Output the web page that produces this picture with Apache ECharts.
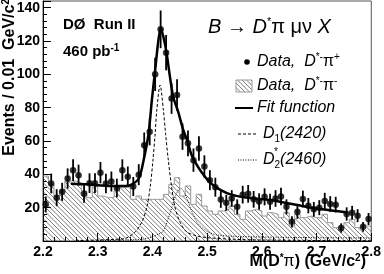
<!DOCTYPE html>
<html><head><meta charset="utf-8">
<script src="https://cdn.jsdelivr.net/npm/echarts@6/dist/echarts.min.js"></script>
<style>html,body{margin:0;padding:0;background:#fff}#c{width:384px;height:274px}</style>
</head><body><div id="c"></div>
<script>
// ---- data ----
const binStart = 2.2;
const binWidth = 0.01;
const dataRightSign = [22,34.5,26,29.5,37.5,42.5,39.5,28.3,34.7,34.7,
  41,34.5,35.7,31.8,42.5,38.5,32.7,39.8,57.5,65.5,
  100,127,113,85.5,87.6,62.6,58.6,48.5,55.5,44.7,
  36.5,32.3,24.9,22.9,25.5,20.5,27.8,28.3,25,23.7,
  26.5,23.5,25.5,26.7,20.5,11.5,17.5,25.2,21.2,19,
  20,24,22.2,21.8,7.8,16.2,17,15.2,8.5,13.2];
const dataErrors = [4.7,5.9,5.1,5.4,6.1,6.5,6.3,5.3,5.9,5.9,
  6.4,5.9,6.0,5.6,6.5,6.2,5.7,6.3,7.6,8.1,
  10,11.3,10.6,9.2,9.4,7.9,7.7,7.0,7.4,6.7,
  6.0,5.7,5.0,4.8,5.0,4.5,5.3,5.3,5.0,4.9,
  5.1,4.8,5.0,5.2,4.5,3.4,4.2,5.0,4.6,4.4,
  4.5,4.9,4.7,4.7,2.8,4.0,4.1,3.9,2.9,3.6];
const wrongSign = [39,34,27,30,36,36,35,30,26,34,
  27,26,26,30,32,33,25,27,25,25,
  25,25,28,34,38,27,33,22,28,21,
  18,16,18,19,21,16,13,18,19,18,
  15,17,16,14,17,9,16,14,15,14,
  14,16,11,8,8,11,13,8,9,9];
const fitX = [2.251,2.28,2.30,2.33,2.35,2.36,2.375,2.384,2.393,2.399,2.405,2.411,2.415,2.42,2.426,2.432,2.438,2.447,2.456,2.465,2.471,2.483,2.495,2.507,2.525,2.544,2.568,2.592,2.62,2.65,2.68,2.71,2.74,2.755];
const fitY = [34.4,34,33.5,33,33,33.5,37.5,48.6,64.6,84.6,102.6,120.6,127.5,122.6,112.6,98.6,86.6,77.6,67,59,52,44.6,39,34.6,30.5,27.8,26.2,25.3,24.3,22.5,20.6,19,17.8,17.2];
const d1X = [2.26,2.30,2.33,2.351,2.369,2.381,2.390,2.396,2.401,2.405,2.408,2.414,2.420,2.424,2.429,2.435,2.441,2.450,2.462,2.48,2.50,2.55,2.60,2.70,2.80];
const d1Y = [0.2,0.6,1.0,1.6,5.6,11.6,20.6,32.6,48.6,64.6,78.6,93.6,78.6,64.6,48.6,32.6,20.6,11.6,5.6,3.2,2.0,1.0,0.6,0.3,0.2];
const d2X = [2.30,2.38,2.40,2.41,2.42,2.432,2.444,2.452,2.459,2.471,2.483,2.501,2.519,2.55,2.60,2.70,2.80];
const d2Y = [0.3,1.0,2.5,4.0,6.0,16.6,28.6,31.6,28.6,18.6,10.6,5.6,3.6,2.8,2.4,2.0,1.8];
const yTickStep = 20, xTickStep = 0.1;

// ---- build ----
const FF = 'Liberation Sans, Arial, Helvetica, sans-serif';
const pts = dataRightSign.map((v,i)=>[+(binStart+(i+0.5)*binWidth).toFixed(4), v, dataErrors[i]]);
const histPts = wrongSign.map((v,i)=>[+(binStart+i*binWidth).toFixed(4), v]);
histPts.push([+(binStart+wrongSign.length*binWidth).toFixed(4), wrongSign[wrongSign.length-1]]);
const zip = (a,b)=>a.map((x,i)=>[x,b[i]]);

function hatchCanvas(){
  const s=4.5, c=document.createElement('canvas'); c.width=9; c.height=9;
  const g=c.getContext('2d'); g.strokeStyle='#444'; g.lineWidth=0.7;
  g.beginPath();
  for(let k=-9;k<=9;k+=s){ g.moveTo(k,0); g.lineTo(k+9,9); }
  g.stroke(); return c;
}
const hatch = {image: hatchCanvas(), repeat:'repeat'};

const chart = echarts.init(document.getElementById('c'), null, {renderer:'canvas'});
const rich = {
  i:{fontFamily:FF, fontStyle:'italic', fontSize:16, color:'#000', lineHeight:20},
  g:{fontFamily:FF, fontSize:16, color:'#000', lineHeight:20},
  sup:{fontFamily:FF, fontSize:10, color:'#000', verticalAlign:'top', lineHeight:20},
  sub:{fontFamily:FF, fontSize:10, color:'#000', verticalAlign:'bottom', lineHeight:16},
};
const option = {
  animation:false,
  backgroundColor:'#fff',
  grid:{left:43, right:9, top:1, bottom:33, show:true, borderColor:'#555', borderWidth:1, backgroundColor:'transparent'},
  xAxis:{type:'value', min:2.2, max:2.8, interval:xTickStep,
    axisLine:{show:true, onZero:false, lineStyle:{color:'#000', width:1}},
    axisTick:{inside:true, length:8, lineStyle:{color:'#000'}},
    minorTick:{show:true, splitNumber:5, length:4, lineStyle:{color:'#000'}},
    splitLine:{show:false},
    axisLabel:{margin:4, fontFamily:FF, fontWeight:'bold', fontSize:14, color:'#000', formatter:v=>v.toFixed(1)}
  },
  yAxis:{type:'value', min:0, max:144, interval:yTickStep,
    axisLine:{show:true, lineStyle:{color:'#000', width:1}},
    axisTick:{inside:true, length:8, lineStyle:{color:'#000'}},
    minorTick:{show:true, splitNumber:5, length:4, lineStyle:{color:'#000'}},
    splitLine:{show:false},
    axisLabel:{margin:3, showMaxLabel:false, fontFamily:FF, fontWeight:'bold', fontSize:14, color:'#000',
      formatter:v=> (v>0 && v%20===0)? String(v):''}
  },
  series:[
    {type:'line', data:histPts, step:'end', symbol:'none', silent:true,
     lineStyle:{color:'#999', width:1}, areaStyle:{color:hatch, opacity:1}, z:1},
    {type:'line', data:zip(d1X,d1Y), smooth:0.3, symbol:'none', lineStyle:{color:'#000', width:1, type:[3,2]}, z:3},
    {type:'line', data:zip(d2X,d2Y), smooth:0.3, symbol:'none', lineStyle:{color:'#000', width:1, type:[1,1.5]}, z:3},
    {type:'line', data:zip(fitX,fitY), smooth:0.3, symbol:'none', lineStyle:{color:'#000', width:2.5}, z:4},
    {type:'custom', data:pts, z:5, renderItem:(p,api)=>{
      const x=api.value(0), y=api.value(1), e=api.value(2);
      const a=api.coord([x,y+e]), b=api.coord([x,Math.max(0,y-e)]);
      return {type:'line', shape:{x1:a[0],y1:a[1],x2:b[0],y2:b[1]}, style:{stroke:'#000', lineWidth:1.8}};
    }, encode:{x:0,y:1}},
    {type:'scatter', data:pts.map(p=>[p[0],p[1]]), symbol:'circle', symbolSize:6.5, itemStyle:{color:'#000'}, z:6}
  ],
  graphic:[
    {type:'text', x:10, y:-1, rotation:Math.PI/2, style:{text:'{b|Events / 0.01  GeV/c}{s|2}', textAlign:'right', textVerticalAlign:'middle',
      rich:{b:{fontFamily:FF, fontWeight:'bold', fontSize:16, color:'#000', lineHeight:18}, s:{fontFamily:FF, fontWeight:'bold', fontSize:10, color:'#000', verticalAlign:'top', lineHeight:18}}}},
    {type:'text', x:366, y:262, style:{text:'{b|M(D}{s|*}{p|π}{b|) (GeV/c}{s|2}{b|)}', textAlign:'right', textVerticalAlign:'middle',
      rich:{b:{fontFamily:FF, fontWeight:'bold', fontSize:16, color:'#000', lineHeight:18}, p:{fontFamily:FF, fontSize:16, color:'#000', lineHeight:18}, s:{fontFamily:FF, fontWeight:'bold', fontSize:10, color:'#000', verticalAlign:'top', lineHeight:18}}}},
    {type:'text', x:63, y:25, style:{text:'DØ  Run II', font:'bold 15px '+FF, fill:'#000', textVerticalAlign:'middle'}},
    {type:'text', x:63, y:52, style:{text:'{b|460 pb}{s|-1}', textVerticalAlign:'middle',
      rich:{b:{fontFamily:FF, fontWeight:'bold', fontSize:15, color:'#000', lineHeight:18}, s:{fontFamily:FF, fontWeight:'bold', fontSize:10, color:'#000', verticalAlign:'top', lineHeight:18}}}},
    {type:'text', x:208, y:27, style:{text:'{i|B}{g| → }{i|D}{s|*}{g|π μν }{i|X}', textVerticalAlign:'middle',
      rich:{i:{fontFamily:FF, fontStyle:'italic', fontSize:20, color:'#000', lineHeight:22}, g:{fontFamily:FF, fontSize:20, color:'#000', lineHeight:22}, s:{fontFamily:FF, fontSize:11, color:'#000', verticalAlign:'top', lineHeight:22}}}},
    // legend
    {type:'circle', shape:{cx:247, cy:62, r:2.8}, style:{fill:'#000'}},
    {type:'text', x:257, y:62, style:{text:'{i|Data,  D}{sup|*-}{g|π}{sup|+}', textVerticalAlign:'middle', rich:rich}},
    {type:'rect', shape:{x:236, y:80, width:16, height:12}, style:{fill:hatch, stroke:'#999', lineWidth:1}},
    {type:'text', x:257, y:86, style:{text:'{i|Data,  D}{sup|*-}{g|π}{sup|-}', textVerticalAlign:'middle', rich:rich}},
    {type:'line', shape:{x1:235, y1:108, x2:253, y2:108}, style:{stroke:'#000', lineWidth:2}},
    {type:'text', x:257, y:108, style:{text:'{i|Fit function}', textVerticalAlign:'middle', rich:rich}},
    {type:'line', shape:{x1:238, y1:134, x2:257, y2:134}, style:{stroke:'#000', lineWidth:1, lineDash:[3,2]}},
    {type:'text', x:263, y:134, style:{text:'{i|D}{sub|1}{i|(2420)}', textVerticalAlign:'middle', rich:rich}},
    {type:'line', shape:{x1:238, y1:160, x2:257, y2:160}, style:{stroke:'#000', lineWidth:1, lineDash:[1,1.5]}},
    {type:'text', x:263, y:160, style:{text:'{i|D}{sub|2}{i|(2460)}', textVerticalAlign:'middle', rich:rich}},
    {type:'text', x:274, y:152, style:{text:'*', font:'10px '+FF, fill:'#000', textVerticalAlign:'middle'}}
  ]
};
chart.setOption(option);
</script></body></html>
